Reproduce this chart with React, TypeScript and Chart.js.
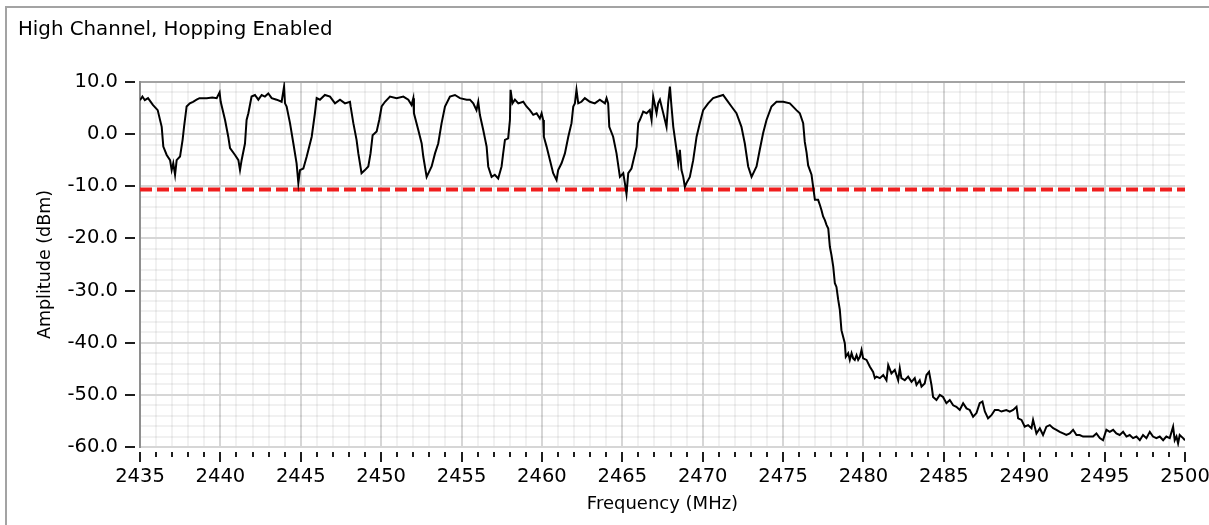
import React, { useEffect, useRef } from "react";
import { Chart, registerables } from "chart.js";

Chart.register(...registerables);

const chartTitle = "High Channel, Hopping Enabled";
const xAxisTitle = "Frequency (MHz)";
const yAxisTitle = "Amplitude (dBm)";
const xMin = 2435;
const xMax = 2500;
const yMin = -60;
const yMax = 10;
const limitDbm = -10.6;

const freqs: number[] = [
  2435.0, 2435.15, 2435.3, 2435.5, 2435.8, 2436.1, 2436.35, 2436.45, 2436.66, 2436.87,
  2436.97, 2437.07, 2437.18, 2437.28, 2437.49, 2437.65, 2437.74, 2437.9, 2438.1, 2438.3,
  2438.52, 2438.7, 2439.15, 2439.5, 2439.77, 2439.95, 2440.02, 2440.29, 2440.49, 2440.6,
  2440.91, 2441.12, 2441.22, 2441.32, 2441.53, 2441.63, 2441.74, 2441.94, 2442.15, 2442.36,
  2442.57, 2442.77, 2442.98, 2443.19, 2443.5, 2443.81, 2443.96, 2444.02, 2444.12, 2444.33,
  2444.54, 2444.74, 2444.85, 2444.95, 2445.16, 2445.37, 2445.68, 2445.88, 2445.99, 2446.19,
  2446.5, 2446.82, 2447.13, 2447.44, 2447.75, 2448.06, 2448.1, 2448.27, 2448.47, 2448.58,
  2448.78, 2448.99, 2449.2, 2449.34, 2449.47, 2449.72, 2449.88, 2450.03, 2450.24, 2450.55,
  2450.96, 2451.38, 2451.69, 2451.89, 2452.0, 2452.04, 2452.31, 2452.52, 2452.62, 2452.83,
  2453.03, 2453.14, 2453.35, 2453.55, 2453.76, 2453.97, 2454.28, 2454.59, 2454.9, 2455.32,
  2455.52, 2455.73, 2455.93, 2456.04, 2456.14, 2456.35, 2456.56, 2456.66, 2456.87, 2457.07,
  2457.28, 2457.49, 2457.59, 2457.7, 2457.9, 2458.01, 2458.05, 2458.17, 2458.32, 2458.53,
  2458.84, 2459.04, 2459.25, 2459.46, 2459.67, 2459.87, 2459.98, 2460.08, 2460.12, 2460.29,
  2460.5, 2460.7, 2460.91, 2461.01, 2461.22, 2461.43, 2461.64, 2461.84, 2461.95, 2462.05,
  2462.15, 2462.26, 2462.46, 2462.67, 2462.98, 2463.29, 2463.6, 2463.92, 2464.02, 2464.12,
  2464.19, 2464.43, 2464.64, 2464.85, 2465.06, 2465.16, 2465.26, 2465.37, 2465.57, 2465.89,
  2465.99, 2466.09, 2466.3, 2466.51, 2466.71, 2466.82, 2466.92, 2467.13, 2467.23, 2467.34,
  2467.5, 2467.65, 2467.75, 2467.85, 2467.96, 2468.06, 2468.17, 2468.37, 2468.48, 2468.58,
  2468.68, 2468.79, 2468.89, 2468.99, 2469.2, 2469.41, 2469.62, 2469.82, 2470.03, 2470.34,
  2470.65, 2470.96, 2471.27, 2471.48, 2471.79, 2472.1, 2472.41, 2472.62, 2472.83, 2473.04,
  2473.24, 2473.35, 2473.55, 2473.76, 2473.97, 2474.28, 2474.59, 2475.01, 2475.42, 2475.83,
  2476.04, 2476.25, 2476.35, 2476.46, 2476.56, 2476.77, 2476.87, 2476.98, 2477.18, 2477.29,
  2477.39, 2477.49, 2477.6, 2477.7, 2477.81, 2477.91, 2478.01, 2478.12, 2478.22, 2478.32,
  2478.43, 2478.53, 2478.63, 2478.84, 2478.9, 2479.05, 2479.15, 2479.26, 2479.36, 2479.46,
  2479.57, 2479.67, 2479.78, 2479.88, 2479.98, 2480.19, 2480.4, 2480.6, 2480.71, 2480.81,
  2481.02, 2481.23, 2481.43, 2481.54, 2481.74, 2481.95, 2482.16, 2482.26, 2482.36, 2482.57,
  2482.78, 2482.99, 2483.19, 2483.3, 2483.5, 2483.61, 2483.81, 2483.92, 2484.08, 2484.23,
  2484.33, 2484.54, 2484.75, 2484.95, 2485.16, 2485.37, 2485.58, 2485.78, 2485.99, 2486.2,
  2486.41, 2486.61, 2486.82, 2487.03, 2487.23, 2487.4, 2487.55, 2487.75, 2487.96, 2488.17,
  2488.38, 2488.58, 2488.89, 2489.1, 2489.31, 2489.52, 2489.62, 2489.83, 2490.03, 2490.24,
  2490.45, 2490.55, 2490.76, 2490.97, 2491.17, 2491.38, 2491.59, 2491.8, 2492.0, 2492.21,
  2492.42, 2492.62, 2492.83, 2493.04, 2493.25, 2493.45, 2493.66, 2493.87, 2494.08, 2494.28,
  2494.49, 2494.7, 2494.9, 2495.11, 2495.32, 2495.53, 2495.73, 2495.94, 2496.15, 2496.36,
  2496.56, 2496.77, 2496.98, 2497.19, 2497.39, 2497.6, 2497.81, 2498.01, 2498.22, 2498.43,
  2498.64, 2498.84, 2499.05, 2499.26, 2499.36, 2499.47, 2499.57, 2499.67, 2499.88, 2500.0,
];

const amps: number[] = [
  6.5, 7.2, 6.5, 6.9, 5.6, 4.6, 1.4, -2.4, -4.0, -5.0,
  -6.9, -5.6, -7.8, -5.0, -4.3, -1.1, 1.4, 5.3, 5.9, 6.2,
  6.6, 6.9, 6.9, 7.0, 6.9, 8.0, 6.2, 2.7, -0.5, -2.7,
  -4.0, -5.0, -6.9, -5.0, -1.8, 2.7, 4.0, 7.2, 7.5, 6.6,
  7.5, 7.2, 7.8, 6.9, 6.6, 6.2, 9.1, 5.9, 5.3, 2.1,
  -1.8, -5.6, -9.4, -6.9, -6.6, -4.3, -0.5, 4.0, 6.9, 6.6,
  7.5, 7.2, 5.9, 6.6, 5.9, 6.2, 5.3, 2.1, -1.1, -3.7,
  -7.5, -6.9, -6.2, -3.7, -0.2, 0.5, 2.7, 5.3, 6.2, 7.2,
  6.9, 7.2, 6.6, 5.6, 6.9, 4.0, 0.8, -1.8, -4.3, -8.2,
  -6.9, -6.2, -3.7, -1.8, 2.1, 5.3, 7.2, 7.5, 6.9, 6.6,
  6.6, 5.9, 4.6, 6.2, 3.7, 0.8, -2.4, -6.2, -8.2, -7.8,
  -8.5, -6.2, -3.7, -1.1, -0.8, 2.7, 8.5, 5.9, 6.6, 5.9,
  6.2, 5.3, 4.6, 3.7, 4.0, 3.0, 4.0, 2.7, -0.5, -2.4,
  -5.0, -7.5, -8.8, -6.9, -5.6, -3.7, -0.5, 2.1, 5.3, 5.9,
  8.5, 5.9, 6.2, 6.9, 6.2, 5.9, 6.6, 5.9, 6.9, 5.9,
  1.4, -0.5, -3.7, -8.2, -7.5, -9.4, -11.5, -7.5, -6.6, -2.4,
  2.1, 2.7, 4.3, 4.0, 4.6, 2.7, 7.2, 4.0, 5.9, 6.6,
  4.6, 2.7, 1.4, 5.9, 9.1, 5.3, 1.4, -3.0, -5.6, -3.0,
  -6.9, -8.2, -10.1, -9.4, -8.2, -5.0, -0.5, 2.1, 4.6, 5.9,
  6.9, 7.2, 7.5, 6.6, 5.3, 4.0, 1.4, -1.8, -6.2, -8.2,
  -6.9, -6.2, -3.0, 0.2, 2.7, 5.3, 6.2, 6.2, 5.9, 4.6,
  4.0, 2.1, -1.5, -3.5, -6.0, -7.8, -10.1, -12.6, -12.6, -13.6,
  -14.6, -15.8, -16.5, -17.4, -18.1, -21.6, -23.2, -25.4, -28.6, -29.3,
  -31.8, -33.7, -37.6, -40.1, -42.7, -42.0, -43.3, -42.0, -43.0, -43.3,
  -42.4, -43.3, -42.7, -41.4, -43.0, -43.3, -44.6, -45.6, -46.8, -46.5,
  -46.8, -46.2, -47.2, -44.3, -45.9, -45.2, -47.2, -44.9, -46.8, -47.2,
  -46.5, -47.5, -46.8, -48.1, -47.2, -48.4, -47.8, -46.2, -45.6, -48.1,
  -50.4, -51.0, -50.0, -50.4, -51.6, -51.0, -52.0, -52.3, -52.9, -51.6,
  -52.6, -52.9, -54.2, -53.5, -51.6, -51.3, -53.2, -54.5, -53.9, -52.9,
  -52.9, -53.2, -52.9, -53.2, -52.9, -52.3, -54.5, -54.8, -56.1, -55.8,
  -56.4, -54.8, -57.4, -56.4, -57.7, -56.1, -55.8, -56.4, -56.7, -57.1,
  -57.4, -57.7, -57.4, -56.7, -57.7, -57.7, -58.0, -58.0, -58.0, -58.0,
  -57.4, -58.3, -58.7, -56.7, -57.1, -56.7, -57.4, -57.7, -57.1, -58.0,
  -57.7, -58.3, -58.0, -58.7, -57.7, -58.3, -57.1, -58.0, -58.3, -58.0,
  -58.7, -58.0, -58.3, -56.1, -58.7, -58.0, -59.3, -57.7, -58.3, -58.7,
];

const FONT = "'DejaVu Sans', sans-serif";
const majorGrid = "#d6d6d6";
const minorGrid = "rgba(0,0,0,0.055)";
const frameGrey = "#a3a3a3";

const tickMarks = {
  id: "tickMarks",
  afterDraw(chart: any) {
    const { ctx, chartArea } = chart;
    const xs = chart.scales.x;
    const ys = chart.scales.y;
    ctx.save();
    ctx.strokeStyle = "#1e1e1e";
    ctx.lineWidth = 2;
    ctx.beginPath();
    xs.ticks.forEach((t: any) => {
      const v = Math.round(t.value);
      const px = Math.round(xs.getPixelForValue(v));
      const major = v % 5 === 0;
      ctx.moveTo(px, chartArea.bottom + 5);
      ctx.lineTo(px, chartArea.bottom + (major ? 15 : 10));
    });
    ys.ticks.forEach((t: any) => {
      const v = Math.round(t.value);
      if (v % 10 !== 0) return;
      const py = Math.round(ys.getPixelForValue(v));
      ctx.moveTo(chartArea.left - 15, py);
      ctx.lineTo(chartArea.left - 5, py);
    });
    ctx.stroke();
    ctx.restore();
  },
};

export default function App() {
  const canvasRef = useRef<HTMLCanvasElement | null>(null);

  useEffect(() => {
    const canvas = canvasRef.current;
    if (!canvas) return;
    const traceData = freqs.map((f, i) => ({ x: f, y: amps[i] }));
    const limitData = [
      { x: xMin, y: limitDbm },
      { x: xMax, y: limitDbm },
    ];
    const chart = new Chart(canvas, {
      type: "line",
      data: {
        datasets: [
          {
            label: "Amplitude",
            data: traceData,
            borderColor: "#000000",
            borderWidth: 2,
            pointRadius: 0,
            tension: 0,
            fill: false,
            order: 0,
          },
          {
            label: "Limit",
            data: limitData,
            borderColor: "#f01e1e",
            borderWidth: 4,
            borderDash: [12, 5],
            pointRadius: 0,
            fill: false,
            order: 1,
          },
        ],
      },
      options: {
        animation: false,
        responsive: false,
        devicePixelRatio: 1,
        events: [],
        layout: { padding: { left: 18, right: 24, top: 0, bottom: 0 } },
        plugins: {
          legend: { display: false },
          tooltip: { enabled: false },
          title: {
            display: true,
            text: chartTitle,
            align: "start",
            color: "#000",
            font: { family: FONT, size: 19.8, weight: "normal", lineHeight: 1.2 },
            padding: { top: 18, bottom: 40.2 },
          },
        },
        scales: {
          x: {
            type: "linear",
            min: xMin,
            max: xMax,
            afterFit: (scale: any) => {
              scale.height = 78;
              scale.paddingLeft = 0;
              scale.paddingRight = 0;
            },
            border: { display: false },
            grid: {
              drawTicks: false,
              lineWidth: 2,
              color: (c: any) => {
                const v = Math.round(c.tick.value);
                if (v === xMax) return "rgba(0,0,0,0)";
                return v % 5 === 0 ? majorGrid : minorGrid;
              },
            },
            ticks: {
              stepSize: 1,
              autoSkip: false,
              maxRotation: 0,
              padding: 18,
              color: "#000",
              font: { family: FONT, size: 19.5 },
              callback: (v: any) => (Math.round(v) % 5 === 0 ? String(Math.round(v)) : ""),
            },
            title: {
              display: true,
              text: xAxisTitle,
              color: "#000",
              font: { family: FONT, size: 18 },
              padding: { top: 0, bottom: 10 },
            },
          },
          y: {
            type: "linear",
            min: yMin,
            max: yMax,
            afterFit: (scale: any) => {
              scale.width = 122;
              scale.paddingTop = 0;
              scale.paddingBottom = 0;
            },
            border: { display: true, color: "#8e8e8e", width: 2 },
            grid: {
              drawTicks: false,
              lineWidth: 2,
              color: (c: any) => {
                const v = Math.round(c.tick.value);
                if (v === yMax) return frameGrey;
                return v % 10 === 0 ? majorGrid : minorGrid;
              },
            },
            ticks: {
              stepSize: 2,
              autoSkip: false,
              padding: 22,
              color: "#000",
              font: { family: FONT, size: 19.5 },
              callback: (v: any) => (Math.round(v) % 10 === 0 ? Number(v).toFixed(1) : ""),
            },
            title: {
              display: true,
              text: yAxisTitle,
              color: "#000",
              font: { family: FONT, size: 17.5 },
              padding: { top: 17, bottom: 0 },
            },
          },
        },
      },
      plugins: [tickMarks],
    });
    return () => chart.destroy();
  }, []);

  return (
    <div
      style={{
        position: "fixed",
        left: 0,
        top: 0,
        width: 1209,
        height: 525,
        background: "#ffffff",
        overflow: "hidden",
      }}
    >
      <div
        style={{
          position: "absolute",
          left: 5,
          top: 6,
          right: -4,
          bottom: -4,
          borderLeft: `2px solid ${frameGrey}`,
          borderTop: `2px solid ${frameGrey}`,
        }}
      />
      <canvas
        ref={canvasRef}
        width={1209}
        height={525}
        style={{ position: "absolute", left: 0, top: 0, width: 1209, height: 525 }}
      />
    </div>
  );
}
